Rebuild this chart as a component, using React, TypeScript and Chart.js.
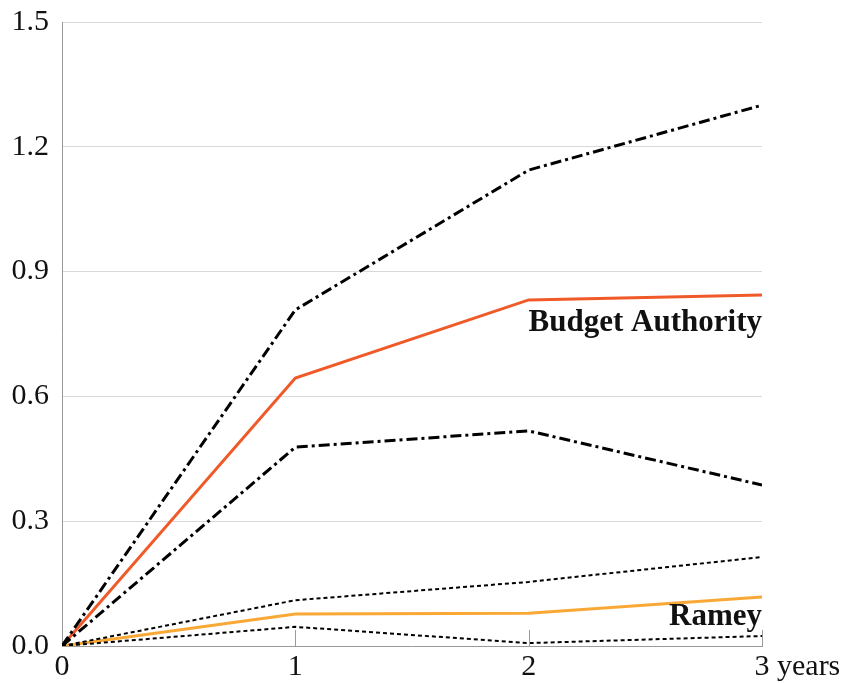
import React, { useEffect, useRef } from "react";
import { Chart, registerables } from "chart.js";

Chart.register(...registerables);

const xValues = [0, 1, 2, 3];
const xTickLabels = ["0", "1", "2", "3 years"];
const yTicks = [0, 0.3, 0.6, 0.9, 1.2, 1.5];

const budgetAuthority = [0, 0.644, 0.832, 0.844];
const budgetUpper = [0, 0.808, 1.144, 1.3];
const budgetLower = [0, 0.478, 0.517, 0.387];
const ramey = [0, 0.077, 0.079, 0.118];
const rameyUpper = [0, 0.11, 0.154, 0.214];
const rameyLower = [0, 0.046, 0.007, 0.024];

const seriesLabels = [
  { text: "Budget Authority", x: 3, y: 0.757 },
  { text: "Ramey", x: 3, y: 0.05 },
];

const SERIF = "'Liberation Serif', 'Times New Roman', serif";

const toPts = (arr: number[]) => arr.map((v, i) => ({ x: xValues[i], y: v }));

const overlayPlugin = {
  id: "overlay",
  afterDraw(chart: any) {
    const { ctx, chartArea, scales } = chart;
    const xs = scales.x;
    const ys = scales.y;
    ctx.save();
    ctx.strokeStyle = "#9a9a9a";
    ctx.lineWidth = 1;
    xValues.forEach((v) => {
      if (v === 0) return;
      const px = Math.round(xs.getPixelForValue(v)) + 0.5;
      ctx.beginPath();
      ctx.moveTo(px, chartArea.bottom);
      ctx.lineTo(px, chartArea.bottom - 16);
      ctx.stroke();
    });
    ctx.fillStyle = "#111";
    ctx.font = `30px ${SERIF}`;
    ctx.textBaseline = "top";
    xValues.forEach((v, i) => {
      const px = xs.getPixelForValue(v);
      const label = xTickLabels[i];
      const first = label.split(" ")[0];
      const w = ctx.measureText(first).width;
      ctx.textAlign = "left";
      ctx.fillText(label, px - w / 2, chartArea.bottom + 6);
    });
    ctx.font = `bold 31px ${SERIF}`;
    ctx.textAlign = "right";
    ctx.textBaseline = "alphabetic";
    seriesLabels.forEach((l) => {
      ctx.fillText(l.text, xs.getPixelForValue(l.x), ys.getPixelForValue(l.y));
    });
    ctx.restore();
  },
};

export default function App() {
  const ref = useRef<HTMLCanvasElement | null>(null);
  useEffect(() => {
    if (!ref.current) return;
    const dashDot = [11, 4, 3, 4];
    const dotted = [4, 3];
    const chart = new Chart(ref.current, {
      type: "line",
      data: {
        datasets: [
          { data: toPts(budgetUpper), borderColor: "#000", borderWidth: 3, borderDash: dashDot },
          { data: toPts(budgetLower), borderColor: "#000", borderWidth: 3, borderDash: dashDot },
          { data: toPts(rameyUpper), borderColor: "#000", borderWidth: 2, borderDash: dotted },
          { data: toPts(rameyLower), borderColor: "#000", borderWidth: 2, borderDash: dotted },
          { data: toPts(budgetAuthority), borderColor: "#f05a28", borderWidth: 3 },
          { data: toPts(ramey), borderColor: "#f9a836", borderWidth: 3 },
        ].map((d) => ({ ...d, pointRadius: 0, fill: false, tension: 0 })),
      },
      options: {
        animation: false,
        responsive: false,
        maintainAspectRatio: false,
        layout: { padding: { left: 0, right: 83, top: 22, bottom: 0 } },
        plugins: { legend: { display: false }, tooltip: { enabled: false } },
        scales: {
          x: {
            type: "linear",
            min: 0,
            max: 3,
            grid: { display: false, drawTicks: false },
            border: { display: true, color: "#9a9a9a", width: 1 },
            ticks: { display: false },
            afterFit(scale: any) {
              scale.height = 37;
              scale.paddingLeft = 0;
              scale.paddingRight = 0;
            },
          },
          y: {
            min: 0,
            max: 1.5,
            afterBuildTicks(scale: any) {
              scale.ticks = yTicks.map((v) => ({ value: v }));
            },
            grid: { color: "#d9d9d9", drawTicks: false, lineWidth: 1 },
            border: { display: true, color: "#9a9a9a", width: 1 },
            ticks: {
              padding: 13,
              color: "#111",
              font: { family: SERIF, size: 30 },
              callback: (v: any) => Number(v).toFixed(1),
            },
            afterFit(scale: any) {
              scale.width = 62;
              scale.paddingTop = 0;
              scale.paddingBottom = 0;
            },
          },
        },
      },
      plugins: [overlayPlugin],
    } as any);
    return () => chart.destroy();
  }, []);
  return (
    <div style={{ position: "fixed", left: 0, top: 0, width: 845, height: 683, background: "#fff" }}>
      <canvas ref={ref} width={845} height={683} style={{ width: 845, height: 683 }} />
    </div>
  );
}
